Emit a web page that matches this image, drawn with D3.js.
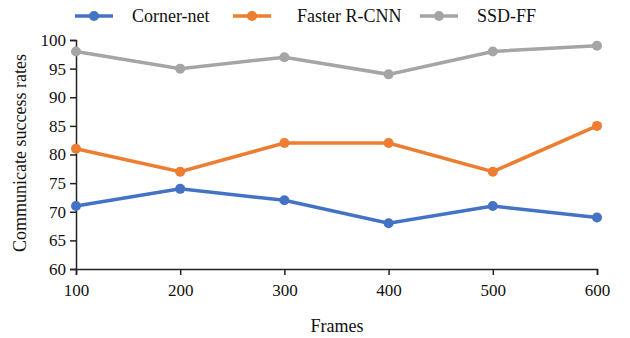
<!DOCTYPE html>
<html><head><meta charset="utf-8">
<script src="https://cdn.jsdelivr.net/npm/d3@7"></script>
<style>body{margin:0;background:#fff}svg{display:block}</style>
</head><body><svg id="c" width="630" height="338"></svg>
<script>
const frames = [100, 200, 300, 400, 500, 600];
const cornerNet = [71, 74, 72, 68, 71, 69];
const fasterRCNN = [81, 77, 82, 82, 77, 85];
const ssdFF = [98, 95, 97, 94, 98, 99];
const yTicks = [60, 65, 70, 75, 80, 85, 90, 95, 100];
const seriesNames = ["Corner-net", "Faster R-CNN", "SSD-FF"];
const colors = ["#4472C4", "#ED7D31", "#A5A5A5"];

const series = [cornerNet, fasterRCNN, ssdFF];
const svg = d3.select("#c");
const font = "'Liberation Serif','Times New Roman',serif";
const x = d3.scaleLinear().domain([100, 600]).range([76, 597]);
const y = d3.scaleLinear().domain([60, 100]).range([269, 40]);

const yAxis = svg.append("g").attr("transform", "translate(76,0)")
  .call(d3.axisLeft(y).tickValues(yTicks).tickSize(6).tickPadding(4));
const xAxis = svg.append("g").attr("transform", "translate(0,269)")
  .call(d3.axisBottom(x).tickValues(frames).tickSize(6).tickPadding(9));
[yAxis, xAxis].forEach(g => {
  g.selectAll("path,line").attr("stroke", "#222").attr("stroke-width", 1.5);
  g.selectAll("text").attr("font-family", font).attr("font-size", 17).attr("fill", "#111");
});

const line = d3.line().x((d, i) => x(frames[i])).y(d => y(d));
series.forEach((s, k) => {
  svg.append("path").datum(s).attr("d", line).attr("fill", "none")
    .attr("stroke", colors[k]).attr("stroke-width", 3.5);
  svg.selectAll(null).data(s).enter().append("circle")
    .attr("cx", (d, i) => x(frames[i])).attr("cy", d => y(d)).attr("r", 5)
    .attr("fill", colors[k]);
});

svg.append("text").attr("x", 337).attr("y", 332).attr("text-anchor", "middle")
  .attr("font-family", font).attr("font-size", 18).attr("fill", "#111").text("Frames");
svg.append("text").attr("transform", "translate(26,153) rotate(-90)").attr("text-anchor", "middle")
  .attr("font-family", font).attr("font-size", 18).attr("fill", "#111").text("Communicate success rates");

const legX = [75, 233, 420];
const legTextX = [132, 297, 477];
seriesNames.forEach((n, k) => {
  svg.append("line").attr("x1", legX[k]).attr("x2", legX[k] + 38).attr("y1", 16).attr("y2", 16)
    .attr("stroke", colors[k]).attr("stroke-width", 3.5);
  svg.append("circle").attr("cx", legX[k] + 19).attr("cy", 16).attr("r", 5).attr("fill", colors[k]);
  svg.append("text").attr("x", legTextX[k]).attr("y", 22).attr("font-family", font)
    .attr("font-size", 18).attr("fill", "#111").text(n);
});
</script></body></html>
